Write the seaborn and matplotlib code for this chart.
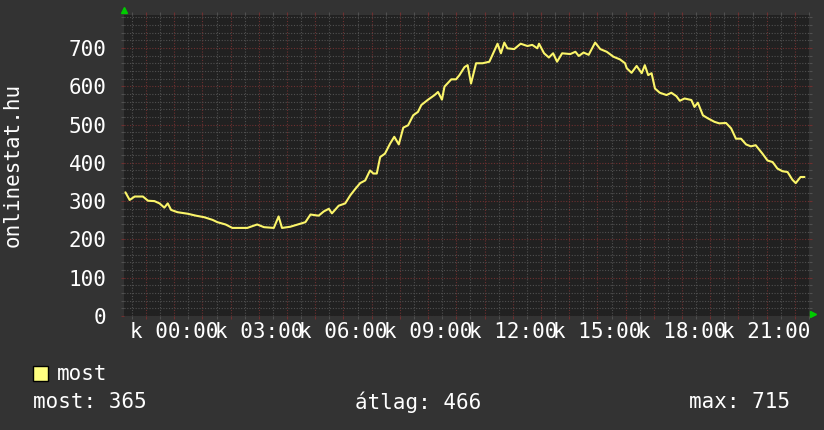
import matplotlib
matplotlib.use("Agg")
import matplotlib.pyplot as plt
from matplotlib.patches import Rectangle
import seaborn as sns

# online users (onlinestat.hu), hours relative to 00:00 of the day shown
hours = [
    -1.73, -1.58, -1.40, -1.11, -0.93, -0.70, -0.52, -0.35, -0.23, -0.11,
    0.12, 0.48, 0.77, 1.06, 1.36, 1.53, 1.82, 2.06, 2.35, 2.59,
    2.94, 3.18, 3.53, 3.70, 3.82, 4.11, 4.42, 4.65, 4.83, 5.12,
    5.30, 5.48, 5.59, 5.83, 6.06, 6.24, 6.42, 6.59, 6.77, 6.94,
    7.06, 7.18, 7.30, 7.47, 7.65, 7.80, 7.96, 8.12, 8.29, 8.47,
    8.64, 8.76, 9.00, 9.23, 9.35, 9.49, 9.58, 9.82, 9.99, 10.11,
    10.29, 10.40, 10.52, 10.70, 10.93, 11.17, 11.35, 11.46, 11.58, 11.70,
    11.81, 12.05, 12.28, 12.52, 12.69, 12.87, 12.93, 13.11, 13.28, 13.43,
    13.57, 13.75, 14.04, 14.22, 14.34, 14.51, 14.69, 14.92, 15.10, 15.33,
    15.57, 15.80, 15.98, 16.04, 16.21, 16.39, 16.57, 16.68, 16.80, 16.92,
    17.04, 17.21, 17.45, 17.62, 17.80, 17.92, 18.09, 18.33, 18.44, 18.56,
    18.74, 18.92, 19.15, 19.32, 19.56, 19.74, 19.91, 20.09, 20.27, 20.44,
    20.61, 20.85, 21.03, 21.21, 21.38, 21.56, 21.74, 21.91, 22.03, 22.20,
    22.34,
]
users = [
    323, 303, 312, 312, 301, 300, 294, 283, 294, 277,
    271, 267, 262, 258, 251, 245, 239, 230, 230, 230,
    239, 232, 230, 260, 230, 233, 240, 245, 265, 262,
    273, 280, 268, 288, 294, 315, 332, 347, 354, 380,
    372, 372, 415, 424, 450, 468, 448, 492, 498, 524,
    533, 551, 565, 577, 585, 565, 599, 618, 618, 629,
    650, 655, 607, 660, 660, 664, 693, 711, 686, 714,
    699, 697, 711, 705, 708, 699, 711, 686, 675, 686,
    664, 686, 684, 690, 679, 688, 682, 714, 697, 690,
    677, 670, 660, 647, 635, 653, 634, 655, 629, 634,
    594, 583, 577, 583, 574, 562, 568, 564, 546, 557,
    524, 516, 507, 503, 504, 490, 463, 463, 448, 443,
    446, 424, 406, 402, 385, 378, 376, 356, 347, 363,
    363,
]

label_hours = [0, 3, 6, 9, 12, 15, 18, 21]
label_texts = ["k 00:00", "k 03:00", "k 06:00", "k 09:00",
               "k 12:00", "k 15:00", "k 18:00", "k 21:00"]
y_ticks = [0, 100, 200, 300, 400, 500, 600, 700]
series_name = "most"
stat_texts = ["most: 365", "átlag: 466", "max: 715"]

sns.set_style("dark")
plt.rcParams["font.family"] = ["DejaVu Sans Mono"]

BG = "#333333"
PLOT_BG = "#212121"
MAJOR = "#6e3030"
MINOR = "#505050"
LINE = "#fbf56a"
FS = 15

W, H = 824, 430
fig = plt.figure(figsize=(W / 100, H / 100), dpi=100, facecolor=BG)
ax = fig.add_axes([124 / W, 1 - 316 / H, 685 / W, 301 / H], facecolor=PLOT_BG)

sns.lineplot(x=hours, y=users, ax=ax, color=LINE, linewidth=1.5, zorder=3)

ax.set_xlim(-1.78, 22.34)
ax.set_ylim(0, 786)

major_x = list(range(-1, 23))
ax.set_xticks(major_x)
ax.set_xticklabels([label_texts[label_hours.index(h)] if h in label_hours else ""
                    for h in major_x])
ax.set_xticks([h + 0.5 for h in range(-2, 23)], minor=True)
ax.set_yticks(y_ticks)
ax.set_yticklabels([str(v) for v in y_ticks])
ax.set_yticks(range(0, 800, 20), minor=True)

ax.grid(which="major", color=MAJOR, linestyle=(0, (1, 1.5)), linewidth=0.8)
ax.grid(which="minor", color=MINOR, linestyle=(0, (1, 1.5)), linewidth=0.8)
ax.tick_params(which="major", direction="out", length=2.5, width=0.8, color=MAJOR,
               top=True, right=True, left=True, bottom=True,
               labelcolor="white", labelsize=FS)
ax.tick_params(which="minor", direction="out", length=2.5, width=0.8, color=MINOR,
               top=True, right=True, left=True, bottom=True)
ax.tick_params(axis="x", which="major", pad=2)
ax.tick_params(axis="y", which="major", pad=10)
for s in ax.spines.values():
    s.set_visible(False)
ax.set_xlabel("")
ax.set_ylabel("")

# rrdtool style arrows at the end of the axes
ax.plot([0], [1 + 5 / 301], marker="^", color="#00cc00", markersize=5,
        transform=ax.transAxes, clip_on=False)
ax.plot([1 + 4 / 685], [0.005], marker=">", color="#00cc00", markersize=5,
        transform=ax.transAxes, clip_on=False)

fig.text(13 / W, 1 - 165 / H, "onlinestat.hu", rotation=90, color="white",
         fontsize=FS, ha="center", va="center")

# legend
fig.patches.append(Rectangle((33 / W, 1 - 381 / H), 15 / W, 15 / H,
                             transform=fig.transFigure, facecolor="#ffff80",
                             edgecolor="black", linewidth=1))
fig.text(57 / W, 1 - 374 / H, series_name, color="white", fontsize=FS, va="center")
fig.text(33 / W, 1 - 402 / H, stat_texts[0], color="white", fontsize=FS, va="center")
fig.text(355 / W, 1 - 402 / H, stat_texts[1], color="white", fontsize=FS, va="center")
fig.text(790 / W, 1 - 402 / H, stat_texts[2], color="white", fontsize=FS,
         va="center", ha="right")

fig.savefig("out.png", dpi=100, facecolor=BG)
